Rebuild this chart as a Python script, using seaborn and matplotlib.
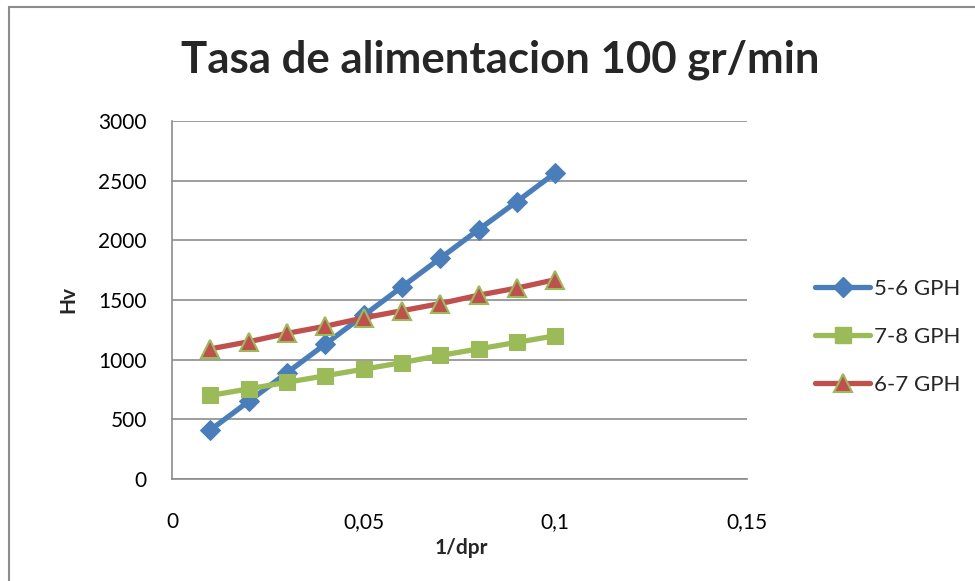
import matplotlib
matplotlib.use("Agg")
import matplotlib.pyplot as plt
from matplotlib.patches import Rectangle
from matplotlib.lines import Line2D
import seaborn as sns
import pandas as pd

# Data
inv_dpr = [0.01, 0.02, 0.03, 0.04, 0.05, 0.06, 0.07, 0.08, 0.09, 0.10]
hv_5_6 = [410, 650, 890, 1130, 1370, 1610, 1850, 2090, 2325, 2565]
hv_7_8 = [700, 755, 810, 865, 920, 975, 1035, 1090, 1145, 1200]
hv_6_7 = [1090, 1150, 1220, 1280, 1350, 1410, 1470, 1540, 1600, 1670]
series_names = ["5-6 GPH", "7-8 GPH", "6-7 GPH"]

x_ticks = [0, 0.05, 0.10, 0.15]
x_tick_labels = ["0", "0,05", "0,1", "0,15"]
y_ticks = [0, 500, 1000, 1500, 2000, 2500, 3000]

sns.set_theme(style="white")
plt.rcParams["font.family"] = ["Lato", "DejaVu Sans"]

fig = plt.figure(figsize=(9.75, 5.81), dpi=100)
ax = fig.add_axes([0.1764, 0.1756, 0.5897, 0.6162])

blue, green, red = "#4A7EBB", "#9BBB59", "#C0504D"
styles = [
    dict(color=blue, marker="D", markersize=10.5, markeredgecolor=blue),
    dict(color=green, marker="s", markersize=11.5, markeredgecolor=green),
    dict(color=red, marker="^", markersize=13, markeredgecolor=green, markeredgewidth=1.5),
]

handles = []
for name, vals, st in zip(series_names, [hv_5_6, hv_7_8, hv_6_7], styles):
    df = pd.DataFrame({"x": inv_dpr, "y": vals})
    sns.lineplot(data=df, x="x", y="y", ax=ax, linewidth=3.8, zorder=3, **st)
    handles.append(Line2D([], [], linewidth=3.8, label=name, **st))

ax.set_xlim(0, 0.15)
ax.set_ylim(0, 3000)
ax.set_xticks(x_ticks)
ax.set_xticklabels(x_tick_labels)
ax.set_yticks(y_ticks)
ax.tick_params(axis="x", length=0, pad=24, labelsize=15, colors="black")
ax.tick_params(axis="y", length=0, pad=18, labelsize=15, colors="black")
ax.grid(axis="y", color="#8C8C8C", linewidth=1.2)
ax.grid(axis="x", visible=False)
for side in ["top", "right"]:
    ax.spines[side].set_visible(False)
for side in ["left", "bottom"]:
    ax.spines[side].set_color("#8C8C8C")
    ax.spines[side].set_linewidth(1.2)

ax.set_xlabel("1/dpr", fontsize=15, fontweight="bold")
ax.set_ylabel("Hv", fontsize=15, fontweight="bold")
ax.xaxis.set_label_coords(0.503, -0.193)
ax.yaxis.set_label_coords(-0.181, 0.5)
ax.xaxis.label.set_va("center")
ax.yaxis.label.set_va("center")

fig.text(0.513, 0.897, "Tasa de alimentacion 100 gr/min", fontsize=31.5,
         fontweight="bold", ha="center", va="center")

ax.legend(handles=handles, loc="center left", bbox_to_anchor=(1.118, 0.397),
          frameon=False, fontsize=16, handlelength=2.5, handletextpad=0.15,
          labelspacing=1.25, borderpad=0, borderaxespad=0)

fig.patches.append(Rectangle((9 / 975, -0.1), 1.2, 1 - 7 / 581 + 0.1,
                             transform=fig.transFigure, fill=False,
                             edgecolor="#8C8C8C", linewidth=1.5))

fig.savefig("out.png", dpi=100)
